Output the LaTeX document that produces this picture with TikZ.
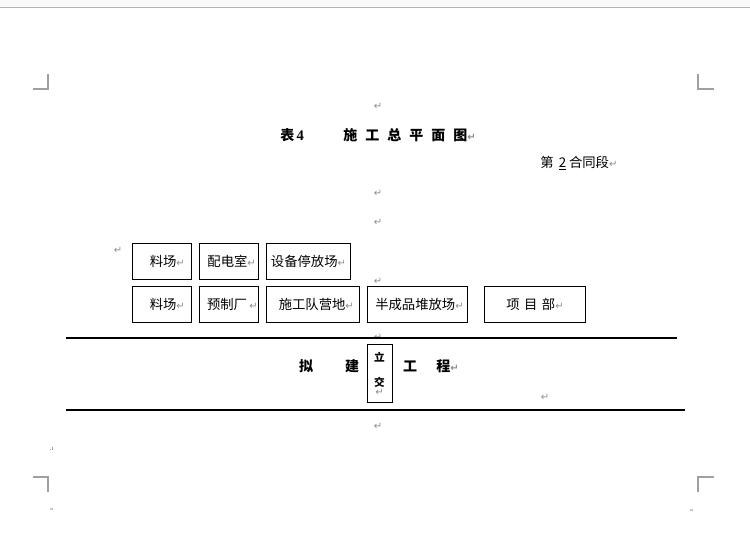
\documentclass[tikz,border=0pt]{standalone}
\usepackage{fontspec}
\newfontfamily\cjk{Noto Sans CJK SC}
\newfontfamily\symf{DejaVu Sans}
\newfontfamily\serifb{Liberation Serif}
\definecolor{markgray}{HTML}{8C8C8C}
\definecolor{cropgray}{HTML}{A0A0A0}
\definecolor{bandgray}{HTML}{FAFAFA}
\newcommand{\ret}{{\symf\fontsize{7.5}{7.5}\selectfont\color{markgray}↵}}
\begin{document}
\begin{tikzpicture}[x=0.75pt,y=-0.75pt,
  boxstyle/.style={draw=black,line width=0.75pt,rectangle,inner sep=0pt,
     font=\cjk\fontsize{10}{12}\selectfont,anchor=north west},
  retmark/.style={inner sep=0pt,font=\symf\fontsize{7.5}{7.5}\selectfont,text=markgray},
  cropline/.style={draw=cropgray,line width=0.9pt},
  thickline/.style={draw=black,line width=1.6pt},
  boldtxt/.style={inner sep=0pt,font=\cjk\bfseries\fontsize{10.5}{12}\selectfont}]
\useasboundingbox (0,0) rectangle (750,538);
% page top band
\fill[bandgray] (0,0) rectangle (750,7);
\draw[draw=cropgray!80,line width=0.8pt] (0,7.5) -- (750,7.5);
% crop marks
\draw[cropline] (48,74) -- (48,89) -- (33,89);
\draw[cropline] (698,74) -- (698,89) -- (714,89);
\draw[cropline] (33,477) -- (48,477) -- (48,492);
\draw[cropline] (714,477) -- (698,477) -- (698,492);
\fill[cropgray] (50,449) rectangle (51,450);
\fill[cropgray] (52,447) rectangle (53,450);
\fill[cropgray!60] (50,508) rectangle (53,510);
\fill[cropgray!60] (690,509) rectangle (693,511);
% return marks
\node[retmark] (r1) at (378,106) {↵};
\node[retmark] (r2) at (378,193) {↵};
\node[retmark] (r3) at (378,222) {↵};
\node[retmark] (r4) at (118,250) {↵};
\node[retmark] (r5) at (378,281) {↵};
\node[retmark] (r6) at (378,337) {↵};
\node[retmark] (r7) at (545,397) {↵};
\node[retmark] (r8) at (378,426) {↵};
% title
\node[boldtxt,anchor=west] (t1) at (280,135) {表\,{\serifb\bfseries\fontsize{11}{12}\selectfont 4}};
\node[boldtxt,anchor=west] (t2) at (343,135) {施\hspace{6pt}工\hspace{6pt}总\hspace{6pt}平\hspace{6pt}面\hspace{6pt}图\ret};
\node[inner sep=0pt,anchor=west,font=\cjk\fontsize{10}{12}\selectfont] (sec) at (540,163) {第\hspace{4pt}\underline{2}\hspace{2pt}合同段\ret};
% boxes row 1
\node[boxstyle,minimum width=59*0.75pt,minimum height=36*0.75pt] (b1) at (132,243) {\hspace{8pt}料场\ret};
\node[boxstyle,minimum width=59*0.75pt,minimum height=36*0.75pt] (b2) at (199,243) {\hspace{4pt}配电室\ret};
\node[boxstyle,minimum width=84*0.75pt,minimum height=36*0.75pt] (b3) at (266,243) {设备停放场\ret};
% boxes row 2
\node[boxstyle,minimum width=59*0.75pt,minimum height=36*0.75pt] (c1) at (132,286) {\hspace{8pt}料场\ret};
\node[boxstyle,minimum width=59*0.75pt,minimum height=36*0.75pt] (c2) at (199,286) {\hspace{5pt}预制厂\,\ret};
\node[boxstyle,minimum width=93*0.75pt,minimum height=36*0.75pt] (c3) at (266,286) {\hspace{5pt}施工队营地\ret};
\node[boxstyle,minimum width=100*0.75pt,minimum height=36*0.75pt] (c4) at (367,286) {\hspace{3pt}半成品堆放场\ret};
\node[boxstyle,minimum width=101*0.75pt,minimum height=36*0.75pt] (c5) at (484,286) {项\,\,目\,\,部\ret};
% road lines
\coordinate (l1a) at (66,338);
\coordinate (l1b) at (677,338);
\coordinate (l2a) at (66,410);
\coordinate (l2b) at (685,410);
\draw[thickline] (l1a) -- (l1b);
\draw[thickline] (l2a) -- (l2b);
% road label
\node[boldtxt] (w1) at (306,366) {拟};
\node[boldtxt] (w2) at (352,366) {建};
\node[draw=black,line width=0.75pt,rectangle,inner sep=0pt,anchor=north west,
  minimum width=25*0.75pt,minimum height=58*0.75pt] (lj) at (367,344) {};
\node[inner sep=0pt,font=\cjk\bfseries\fontsize{8}{9}\selectfont] (lj1) at (379.5,357) {立};
\node[inner sep=0pt,font=\cjk\bfseries\fontsize{8}{9}\selectfont] (lj2) at (379.5,382) {交};
\node[retmark] (lj3) at (379.5,392) {↵};
\node[boldtxt] (w3) at (410,366) {工};
\node[boldtxt,anchor=west] (w4) at (436,366) {程\ret};
\end{tikzpicture}
\end{document}
